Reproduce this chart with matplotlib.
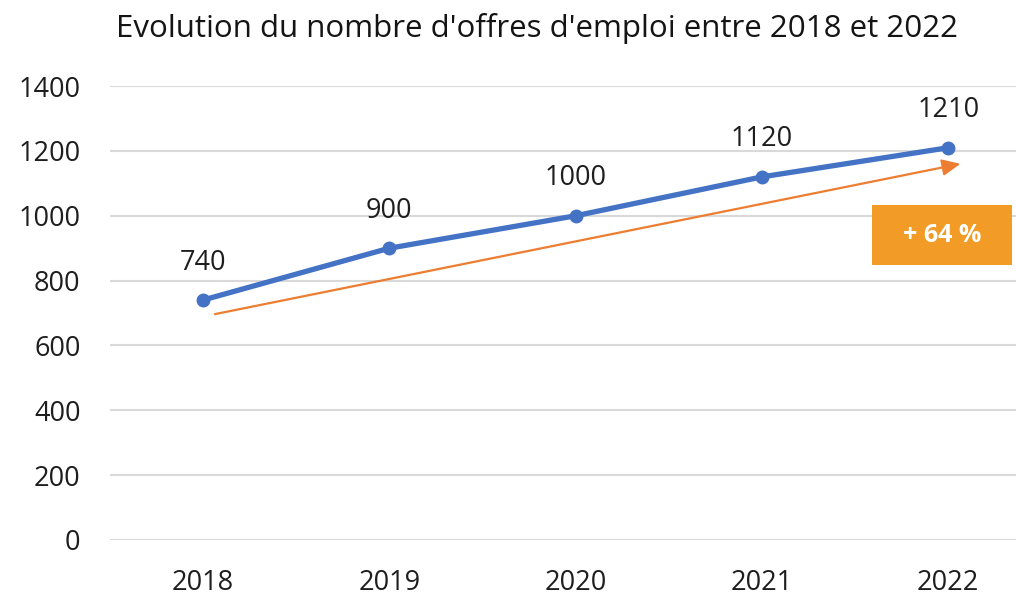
import matplotlib.pyplot as plt
from matplotlib.patches import Rectangle

plt.rcParams['font.family'] = ['Open Sans', 'DejaVu Sans']

# data
years = ['2018', '2019', '2020', '2021', '2022']
offres = [740, 900, 1000, 1120, 1210]
trend_start = (0.05, 695)
trend_end = (4.08, 1162)
growth_label = '+ 64 %'

fig = plt.figure(figsize=(10.16, 5.98), dpi=100)
ax = fig.add_axes([0.108, 0.097, 0.917, 0.759])

x = list(range(len(years)))
ax.plot(x, offres, color='#4472C4', lw=3.8, marker='o', ms=9,
        solid_capstyle='round', zorder=3)
for xi, v in zip(x, offres):
    ax.annotate(str(v), (xi, v), xytext=(0, 27), textcoords='offset points',
                ha='center', va='center', fontsize=19.5, color='#1e1e1e')

# orange trend arrow
ax.annotate('', xy=trend_end, xytext=trend_start,
            arrowprops=dict(arrowstyle='-|>,head_length=1.1,head_width=0.5',
                            color='#ED7D31', lw=1.6), zorder=2)

# growth box
ax.add_patch(Rectangle((3.59, 848), 0.75, 185, fc='#F29B26', ec='none', zorder=4))
ax.text(3.965, 940, growth_label, ha='center', va='center', fontsize=18,
        fontweight='bold', color='white', zorder=5)

ax.set_xlim(-0.5, 4.5)
ax.set_ylim(0, 1400)
ax.set_yticks(range(0, 1401, 200))
ax.set_xticks(x)
ax.set_xticklabels(years)
ax.tick_params(length=0, labelsize=19.5, labelcolor='#1e1e1e')
ax.tick_params(axis='y', pad=21)
ax.tick_params(axis='x', pad=21)
ax.grid(axis='y', color='#D9D9D9', lw=1.5)
ax.set_axisbelow(True)
for s in ax.spines.values():
    s.set_visible(False)

fig.text(0.529, 0.953, "Evolution du nombre d'offres d'emploi entre 2018 et 2022",
         ha='center', va='center', fontsize=22.5, color='#141414')

fig.savefig('out.png', dpi=100)
